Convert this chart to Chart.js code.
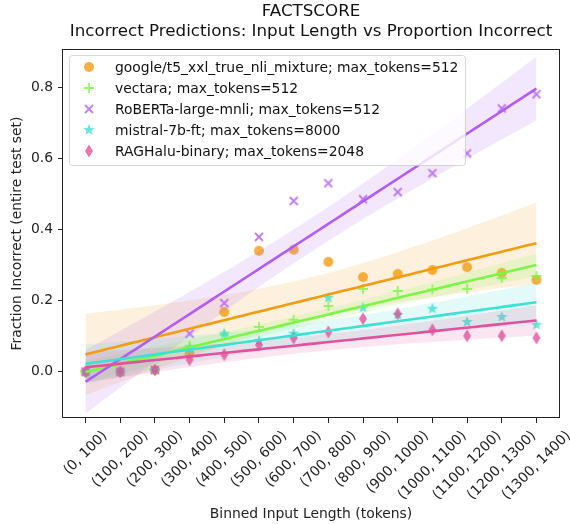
<!DOCTYPE html>
<html lang="en">
<head>
  <meta charset="UTF-8" />
  <title>FACTSCORE - Incorrect Predictions</title>
  <script src="https://cdn.jsdelivr.net/npm/chart.js"></script>
  <style>
    * { margin: 0; padding: 0; box-sizing: border-box; }
    body { background: #fff; width: 570px; height: 524px; overflow: hidden; }
    canvas { display: block; }
  </style>
</head>
<body>
  <canvas id="chart" width="570" height="524"></canvas>

  <script>
    // Data
    const categories = ['(0, 100)', '(100, 200)', '(200, 300)', '(300, 400)', '(400, 500)', '(500, 600)', '(600, 700)',
      '(700, 800)', '(800, 900)', '(900, 1000)', '(1000, 1100)', '(1100, 1200)', '(1200, 1300)', '(1300, 1400)'];
    const googleT5 = [0.0, 0.0, 0.005, 0.05, 0.168, 0.34, 0.343, 0.309, 0.266, 0.275, 0.286, 0.294, 0.278, 0.258];
    const vectara  = [0.0, 0.0, 0.005, 0.073, 0.104, 0.126, 0.146, 0.185, 0.233, 0.227, 0.231, 0.233, 0.264, 0.269];
    const roberta  = [0.0, 0.0, 0.005, 0.107, 0.193, 0.379, 0.48, 0.53, 0.485, 0.505, 0.558, 0.614, 0.74, 0.78];
    const mistral  = [0.0, 0.0, 0.005, 0.065, 0.107, 0.087, 0.107, 0.208, 0.18, 0.16, 0.177, 0.14, 0.154, 0.132];
    const ragHalu  = [0.0, 0.0, 0.005, 0.034, 0.048, 0.076, 0.095, 0.112, 0.149, 0.163, 0.118, 0.101, 0.101, 0.095];
    const yTicks = [0, 0.2, 0.4, 0.6, 0.8];

    const series = [
      { label: 'google/t5_xxl_true_nli_mixture; max_tokens=512', values: googleT5, color: '#F39C12', marker: 'circle' },
      { label: 'vectara; max_tokens=512', values: vectara, color: '#7CF548', marker: 'plus' },
      { label: 'RoBERTa-large-mnli; max_tokens=512', values: roberta, color: '#B05CF6', marker: 'x' },
      { label: 'mistral-7b-ft; max_tokens=8000', values: mistral, color: '#40E0D0', marker: 'star' },
      { label: 'RAGHalu-binary; max_tokens=2048', values: ragHalu, color: '#E0529C', marker: 'diamond' }
    ];

    const FONT = '"DejaVu Sans"';

    function rgba(hex, a) {
      const n = parseInt(hex.slice(1), 16);
      return `rgba(${(n >> 16) & 255}, ${(n >> 8) & 255}, ${n & 255}, ${a})`;
    }

    // matplotlib-like markers as small canvases
    function makeMarker(kind, color) {
      const c = document.createElement('canvas');
      c.width = 16; c.height = 16;
      const g = c.getContext('2d');
      g.translate(8, 8);
      g.fillStyle = rgba(color, 0.8);
      g.strokeStyle = rgba(color, 0.8);
      g.lineWidth = 1.8;
      g.beginPath();
      if (kind === 'circle') {
        g.arc(0, 0, 5, 0, Math.PI * 2);
        g.fill();
      } else if (kind === 'plus') {
        g.moveTo(-5, 0); g.lineTo(5, 0);
        g.moveTo(0, -5); g.lineTo(0, 5);
        g.stroke();
      } else if (kind === 'x') {
        g.moveTo(-4, -4); g.lineTo(4, 4);
        g.moveTo(-4, 4); g.lineTo(4, -4);
        g.stroke();
      } else if (kind === 'star') {
        for (let i = 0; i < 10; i++) {
          const r = i % 2 === 0 ? 6 : 2.5;
          const a = -Math.PI / 2 + i * Math.PI / 5;
          g.lineTo(r * Math.cos(a), r * Math.sin(a));
        }
        g.closePath();
        g.fill();
      } else {
        g.moveTo(0, -6.5); g.lineTo(4, 0); g.lineTo(0, 6.5); g.lineTo(-4, 0);
        g.closePath();
        g.fill();
      }
      return c;
    }

    // least squares fit with 95% confidence band of the mean
    function regress(ys) {
      const n = ys.length;
      const mx = (n - 1) / 2;
      const my = ys.reduce((a, b) => a + b, 0) / n;
      let sxx = 0, sxy = 0;
      ys.forEach((y, i) => { sxx += (i - mx) ** 2; sxy += (i - mx) * (y - my); });
      const slope = sxy / sxx;
      const icpt = my - slope * mx;
      let ssr = 0;
      ys.forEach((y, i) => { ssr += (y - (icpt + slope * i)) ** 2; });
      const s = Math.sqrt(ssr / (n - 2));
      const t = 2.179;
      const line = [], upper = [], lower = [];
      const steps = 60;
      for (let k = 0; k <= steps; k++) {
        const x = (n - 1) * k / steps;
        const yhat = icpt + slope * x;
        const half = t * s * Math.sqrt(1 / n + (x - mx) ** 2 / sxx) * 1.15;
        line.push({ x, y: yhat });
        upper.push({ x, y: yhat + half });
        lower.push({ x, y: yhat - half });
      }
      return { line, upper, lower };
    }

    const datasets = [];
    const last = series.length - 1;
    series.forEach((s, i) => {
      s.img = makeMarker(s.marker, s.color);
      const fit = regress(s.values);
      // fitted lines sit above all points and bands, later series on top
      datasets.push({
        data: fit.line, borderColor: s.color, borderWidth: 2.6, pointRadius: 0,
        fill: false, order: last - i
      });
      const base = 5 + (last - i) * 3;
      datasets.push({
        data: s.values.map((v, x) => ({ x, y: v })), showLine: false,
        pointStyle: s.img, pointRadius: 5, order: base
      });
      datasets.push({
        data: fit.upper, borderWidth: 0, pointRadius: 0,
        backgroundColor: rgba(s.color, 0.15), fill: datasets.length + 1, order: base + 1
      });
      datasets.push({
        data: fit.lower, borderWidth: 0, pointRadius: 0, fill: false, order: base + 2
      });
    });

    const framePlugin = {
      id: 'frame',
      afterDraw(chart) {
        const { ctx, chartArea: a } = chart;
        ctx.save();
        ctx.strokeStyle = '#222';
        ctx.lineWidth = 1;
        ctx.strokeRect(Math.round(a.left) - 0.5, Math.round(a.top) + 0.5,
          Math.round(a.right - a.left) + 1, Math.round(a.bottom - a.top) - 1);

        // rotated category labels, bounding box centred under each tick
        const xs = chart.scales.x;
        ctx.font = `13.9px ${FONT}`;
        ctx.fillStyle = '#222';
        ctx.textAlign = 'center';
        ctx.textBaseline = 'middle';
        const top = a.bottom + 10;
        categories.forEach((c, i) => {
          const w = ctx.measureText(c).width;
          const side = (w + 16) * Math.SQRT1_2;
          ctx.save();
          ctx.translate(xs.getPixelForValue(i), top + side / 2);
          ctx.rotate(-Math.PI / 4);
          ctx.fillText(c, 0, 0);
          ctx.restore();
        });

        // legend box, top left inside the axes
        const lx = 69.5, ly = 55.5, lw = 396, lh = 110;
        ctx.beginPath();
        ctx.roundRect(lx, ly, lw, lh, 3);
        ctx.fillStyle = 'rgba(255,255,255,0.8)';
        ctx.fill();
        ctx.strokeStyle = 'rgba(204,204,204,0.8)';
        ctx.stroke();
        ctx.fillStyle = '#111';
        ctx.textAlign = 'left';
        series.forEach((s, i) => {
          const y = 67 + i * 21;
          ctx.drawImage(s.img, 89 - 8, y - 8);
          ctx.fillText(s.label, 115, y + 1);
        });
        ctx.restore();
      }
    };

    new Chart(document.getElementById('chart'), {
      type: 'line',
      data: { datasets },
      plugins: [framePlugin],
      options: {
        responsive: false,
        animation: false,
        layout: { padding: { left: 0, right: 11, top: 0, bottom: 0 } },
        plugins: {
          legend: { display: false },
          tooltip: { enabled: false },
          title: {
            display: true,
            fullSize: false,
            text: ['FACTSCORE', 'Incorrect Predictions: Input Length vs Proportion Incorrect'],
            color: '#111',
            font: { family: 'DejaVu Sans', size: 16.7, weight: 'normal', lineHeight: 1.2 },
            padding: { top: 2, bottom: 7 }
          }
        },
        scales: {
          x: {
            type: 'linear',
            min: -0.65,
            max: 13.65,
            afterBuildTicks: (scale) => { scale.ticks = categories.map((c, i) => ({ value: i })); },
            afterFit: (scale) => { scale.height = 106; },
            grid: { display: true, drawOnChartArea: false, drawTicks: true, tickLength: 5, color: '#222' },
            border: { display: false },
            ticks: { display: false },
            title: {
              display: true,
              text: 'Binned Input Length (tokens)',
              color: '#222',
              font: { family: 'DejaVu Sans', size: 13.9 },
              padding: { top: 0, bottom: 1 }
            }
          },
          y: {
            min: -0.13,
            max: 0.907,
            afterBuildTicks: (scale) => { scale.ticks = yTicks.map((v) => ({ value: v })); },
            afterFit: (scale) => { scale.width = 63; },
            grid: { display: true, drawOnChartArea: false, drawTicks: true, tickLength: 5, color: '#222' },
            border: { display: false },
            ticks: {
              callback: (v) => v.toFixed(1),
              padding: 5,
              color: '#222',
              font: { family: 'DejaVu Sans', size: 13.9 }
            },
            title: {
              display: true,
              text: 'Fraction Incorrect (entire test set)',
              color: '#222',
              font: { family: 'DejaVu Sans', size: 13.9 },
              padding: { top: 9.5, bottom: 0 }
            }
          }
        }
      }
    });
  </script>
</body>
</html>
